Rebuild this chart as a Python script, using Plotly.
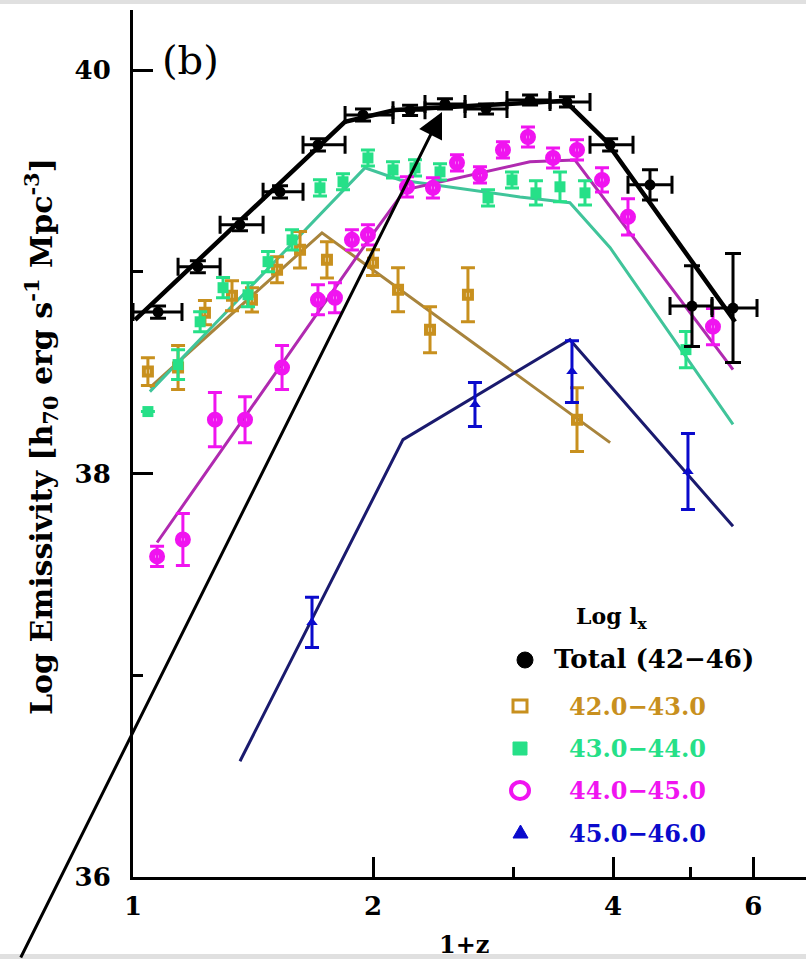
import math
import plotly.graph_objects as go

# ---------------- data ----------------
# Total (42-46): bin centres, bin edges (1+z), log emissivity, errors
total_z = [1.075, 1.206, 1.362, 1.529, 1.706, 1.943, 2.226, 2.462, 2.772, 3.148, 3.502, 3.967, 4.451, 5.025, 5.657]
total_lo = [1.0, 1.139, 1.286, 1.456, 1.634, 1.845, 2.119, 2.324, 2.609, 2.945, 3.335, 3.743, 4.177, 4.716, 5.324]
total_hi = [1.152, 1.286, 1.456, 1.634, 1.845, 2.119, 2.324, 2.609, 2.945, 3.335, 3.743, 4.238, 4.743, 5.324, 6.063]
total_y = [38.80, 39.025, 39.233, 39.396, 39.629, 39.777, 39.80, 39.832, 39.807, 39.851, 39.842, 39.629, 39.431, 38.83, 38.82]
total_yerr = [0.03, 0.03, 0.03, 0.03, 0.03, 0.03, 0.025, 0.025, 0.025, 0.025, 0.025, 0.03, 0.075, 0.2, 0.27]
total_line_z = [1.006, 1.844, 2.131, 3.482, 3.909, 5.69]
total_line_y = [38.762, 39.743, 39.802, 39.847, 39.653, 38.752]

# 42.0-43.0
o_z = [1.044, 1.139, 1.231, 1.331, 1.410, 1.516, 1.620, 1.751, 2.000, 2.150, 2.358, 2.631, 3.605]
o_y = [38.505, 38.525, 38.797, 38.881, 38.861, 39.010, 39.109, 39.059, 39.045, 38.911, 38.713, 38.886, 38.267]
o_err = [0.069, 0.109, 0.06, 0.074, 0.06, 0.064, 0.09, 0.09, 0.064, 0.109, 0.114, 0.134, 0.158]
o_line_z = [1.050, 1.726, 3.967]
o_line_y = [38.426, 39.193, 38.153]

# 43.0-44.0
g_z = [1.044, 1.139, 1.214, 1.297, 1.394, 1.477, 1.583, 1.716, 1.834, 1.971, 2.119, 2.258, 2.427, 2.788, 2.988, 3.202, 3.432, 3.689, 4.938]
g_y = [38.307, 38.540, 38.752, 38.921, 38.886, 39.050, 39.158, 39.416, 39.446, 39.564, 39.505, 39.515, 39.495, 39.366, 39.455, 39.391, 39.421, 39.391, 38.614]
g_err = [0, 0.074, 0.05, 0.05, 0.06, 0.05, 0.05, 0.04, 0.04, 0.04, 0.04, 0.04, 0.04, 0.04, 0.04, 0.06, 0.074, 0.06, 0.09]
g_line_z = [1.050, 1.954, 2.162, 3.058, 3.532, 3.967, 5.657]
g_line_y = [38.406, 39.515, 39.455, 39.371, 39.342, 39.119, 38.243]

# 44.0-45.0
m_z = [1.072, 1.155, 1.267, 1.382, 1.538, 1.706, 1.792, 1.882, 1.971, 2.206, 2.378, 2.549, 2.724, 2.911, 3.129, 3.364, 3.605, 3.875, 4.177, 5.339]
m_y = [37.589, 37.673, 38.267, 38.267, 38.525, 38.861, 38.871, 39.158, 39.183, 39.421, 39.416, 39.540, 39.480, 39.604, 39.668, 39.564, 39.604, 39.455, 39.272, 38.728]
m_err = [0.05, 0.129, 0.134, 0.114, 0.109, 0.074, 0.074, 0.05, 0.05, 0.05, 0.05, 0.04, 0.04, 0.04, 0.05, 0.05, 0.05, 0.06, 0.09, 0.09]
m_line_z = [1.072, 1.983, 2.194, 2.647, 3.147, 3.584, 5.657]
m_line_y = [37.658, 39.168, 39.406, 39.480, 39.545, 39.554, 38.515]

# 45.0-46.0
b_z = [1.677, 2.685, 3.553, 4.967]
b_y = [37.262, 38.342, 38.505, 38.010]
b_err = [0.124, 0.109, 0.153, 0.188]
b_line_z = [1.362, 2.181, 3.532, 5.657]
b_line_y = [36.574, 38.168, 38.663, 37.738]

x_tickvals = [1, 2, 4, 6]
x_ticktext = ["1", "2", "4", "6"]
x_minor = [3, 5, 7]
y_tickvals = [36, 38, 40]
y_ticktext = ["36", "38", "40"]
y_minor = [37, 39]

legend_title = "Log l<sub>x</sub>"
legend_labels = ["Total (42−46)", "42.0−43.0", "43.0−44.0", "44.0−45.0", "45.0−46.0"]

arrow_tip = (2.441, 39.792)

# ---------------- styling ----------------
FONT = "DejaVu Serif"
C_OR, C_OR_L = "#C8901E", "#A8843C"
C_GR, C_GR_L = "#26E088", "#40C49A"
C_MA, C_MA_L = "#F014F0", "#B02AB0"
C_BL, C_BL_L = "#0A0ACC", "#1A1A6E"

fig = go.Figure()

def add_line(xs, ys, color, width):
    fig.add_trace(go.Scatter(x=xs, y=ys, mode="lines", line=dict(color=color, width=width),
                             showlegend=False, hoverinfo="skip"))

add_line(o_line_z, o_line_y, C_OR_L, 3)
add_line(g_line_z, g_line_y, C_GR_L, 3)
add_line(m_line_z, m_line_y, C_MA_L, 3)
add_line(b_line_z, b_line_y, C_BL_L, 3)
add_line(total_line_z, total_line_y, "black", 4.5)

def add_pts(xs, ys, err, color, symbol, size, lw=0):
    fig.add_trace(go.Scatter(
        x=xs, y=ys, mode="markers",
        marker=dict(symbol=symbol, size=size, color=color, line=dict(color=color, width=lw)),
        error_y=dict(type="data", array=err, color=color, thickness=3, width=7),
        showlegend=False))

add_pts(o_z, o_y, o_err, C_OR, "square-open", 8, 4)
add_pts(g_z, g_y, g_err, C_GR, "square", 11)
add_pts(m_z, m_y, m_err, C_MA, "circle-open", 10, 6)
add_pts(b_z, b_y, b_err, C_BL, "triangle-up", 10)

fig.add_trace(go.Scatter(
    x=total_z, y=total_y, mode="markers",
    marker=dict(symbol="circle", size=11, color="black"),
    error_x=dict(type="data", array=[h - z for h, z in zip(total_hi, total_z)],
                 arrayminus=[z - l for z, l in zip(total_z, total_lo)],
                 color="black", thickness=3, width=9),
    error_y=dict(type="data", array=total_yerr, color="black", thickness=3, width=8),
    showlegend=False))

# ---------------- axes ----------------
L, R, T, B = 133, 0, 10, 82
W, H = 806, 959
pw, ph = W - L - R, H - T - B
x_max = 2 ** ((pw) / 240.0)
y_max = 40 + 60 / 201.75
xr = [0, math.log10(x_max)]
yr = [36, y_max]

tickfont = dict(family=FONT, size=26, color="black", weight="bold")
common_x = dict(type="log", range=xr, showgrid=False, zeroline=False, ticks="inside",
                ticklen=20, tickwidth=3, tickcolor="black", tickmode="array",
                tickvals=x_tickvals,
                minor=dict(tickmode="array", tickvals=x_minor, ticks="inside", ticklen=10,
                           tickwidth=3, tickcolor="black", showgrid=False))
common_y = dict(range=yr, showgrid=False, zeroline=False, ticks="inside", ticklen=20,
                tickwidth=3, tickcolor="black", tickmode="array", tickvals=y_tickvals,
                minor=dict(tickmode="array", tickvals=y_minor, ticks="inside", ticklen=10,
                           tickwidth=3, tickcolor="black", showgrid=False))

fig.update_layout(
    width=W, height=H, margin=dict(l=L, r=R, t=T, b=B),
    paper_bgcolor="white", plot_bgcolor="white",
    xaxis=dict(**common_x, ticktext=x_ticktext, tickfont=tickfont, showline=True,
               linewidth=3, linecolor="black", ticklabelstandoff=4),
    xaxis2=dict(**common_x, overlaying="x", side="top", anchor="y", matches="x",
                showticklabels=False, showline=True, linewidth=3, linecolor="black"),
    yaxis=dict(**common_y, ticktext=y_ticktext, tickfont=tickfont, showline=True,
               linewidth=3, linecolor="black", ticklabelstandoff=14),
    yaxis2=dict(**common_y, overlaying="y", side="right", anchor="x", matches="y",
                showticklabels=False, showline=False),
)

def px2p(px, py):
    return (px - L) / pw, (H - B - py) / ph

ann = []
# y-axis title
xx, yy = px2p(41, 437)
ann.append(dict(text="Log Emissivity [h<sub>70</sub> erg s<sup>-1</sup> Mpc<sup>-3</sup>]",
                x=xx, y=yy, xref="paper", yref="paper", textangle=-90, showarrow=False,
                font=dict(family=FONT, size=30, color="black", weight="bold"),
                xanchor="center", yanchor="middle"))
# x-axis title
xx, yy = px2p(464, 944)
ann.append(dict(text="1+z", x=xx, y=yy, xref="paper", yref="paper", showarrow=False,
                font=dict(family=FONT, size=24, color="black", weight="bold"),
                xanchor="center", yanchor="middle"))
# panel label
xx, yy = px2p(190, 60)
ann.append(dict(text="(b)", x=xx, y=yy, xref="paper", yref="paper", showarrow=False,
                font=dict(family=FONT, size=40, color="black"),
                xanchor="center", yanchor="middle"))
# legend
xx, yy = px2p(612, 618)
ann.append(dict(text=legend_title, x=xx, y=yy, xref="paper", yref="paper", showarrow=False,
                font=dict(family=FONT, size=22, color="black", weight="bold"),
                xanchor="center", yanchor="middle"))
leg_rows = [(552, 659, "black", 26), (567, 706, C_OR, 24), (567, 748, C_GR, 24),
            (567, 790, C_MA, 24), (567, 833, C_BL, 24)]
for (lx, ly, col, fs), lab in zip(leg_rows, legend_labels):
    xx, yy = px2p(lx, ly)
    ann.append(dict(text=lab, x=xx, y=yy, xref="paper", yref="paper", showarrow=False,
                    font=dict(family=FONT, size=fs, color=col, weight="bold"),
                    xanchor="left", yanchor="middle"))
# arrow
ann.append(dict(text="", x=math.log10(arrow_tip[0]), y=arrow_tip[1], xref="x", yref="y",
                axref="pixel", ayref="pixel", ax=-422, ay=868, showarrow=True,
                arrowhead=2, arrowsize=1.7, arrowwidth=3, arrowcolor="black", standoff=0))
fig.update_layout(annotations=ann)

# legend keys and page-edge strips
shapes = []
def rect_px(x0, y0, x1, y1, **kw):
    a0, b0 = px2p(x0, y1)
    a1, b1 = px2p(x1, y0)
    d = dict(type="rect", xref="paper", yref="paper", x0=a0, y0=b0, x1=a1, y1=b1)
    d.update(kw)
    shapes.append(d)

def circ_px(x0, y0, x1, y1, **kw):
    a0, b0 = px2p(x0, y1)
    a1, b1 = px2p(x1, y0)
    d = dict(type="circle", xref="paper", yref="paper", x0=a0, y0=b0, x1=a1, y1=b1)
    d.update(kw)
    shapes.append(d)

circ_px(517, 652, 533, 668, fillcolor="black", line=dict(color="black", width=1))
rect_px(513, 700, 527, 712, line=dict(color=C_OR, width=3))
rect_px(513, 742, 527, 755, fillcolor=C_GR, line=dict(color=C_GR, width=1))
circ_px(511, 782, 529, 799, line=dict(color=C_MA, width=4))
p1 = px2p(513, 838); p2 = px2p(528, 838); p3 = px2p(520.5, 825)
shapes.append(dict(type="path", xref="paper", yref="paper",
                   path=f"M {p1[0]} {p1[1]} L {p2[0]} {p2[1]} L {p3[0]} {p3[1]} Z",
                   fillcolor=C_BL, line=dict(color=C_BL, width=1)))
rect_px(0, 0, 806, 4, fillcolor="#E0E0E0", line=dict(width=0), layer="above")
rect_px(0, 954, 806, 959, fillcolor="#E0E0E0", line=dict(width=0), layer="above")
fig.update_layout(shapes=shapes)

fig.write_html("out.html", config={"displayModeBar": False},
               post_script="document.body.style.margin='0';document.body.style.overflow='hidden';")
